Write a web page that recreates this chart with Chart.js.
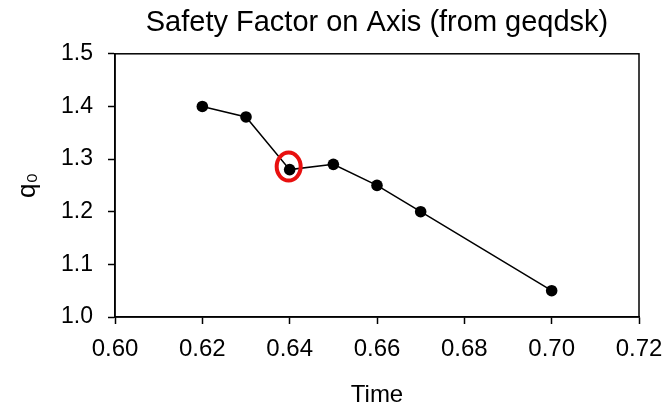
<!DOCTYPE html>
<html>
<head>
<meta charset="utf-8">
<script src="https://cdn.jsdelivr.net/npm/chart.js@4/dist/chart.umd.min.js"></script>
<style>
html,body{margin:0;padding:0;background:#fff;}
#wrap{width:667px;height:407px;position:relative;}
</style>
</head>
<body>
<div id="wrap"><canvas id="c" width="667" height="407"></canvas></div>
<script>
const times = [0.62, 0.63, 0.64, 0.65, 0.66, 0.67, 0.70];
const q0 = [1.40, 1.38, 1.28, 1.29, 1.25, 1.20, 1.05];
const highlightTime = [0.64];
const highlightQ = [1.28];
const xTicks = [0.60, 0.62, 0.64, 0.66, 0.68, 0.70, 0.72];
const yTicks = [1.0, 1.1, 1.2, 1.3, 1.4, 1.5];

const points = times.map((t, i) => ({x: t, y: q0[i]}));
const FONT = '"Liberation Sans", Arial, sans-serif';

const framePlugin = {
  id: 'frame',
  afterDatasetsDraw(chart) {
    const {ctx, chartArea: a, scales} = chart;
    ctx.save();
    ctx.strokeStyle = '#000';
    ctx.lineWidth = 1.5;
    ctx.strokeRect(a.left, a.top, a.right - a.left, a.bottom - a.top);
    ctx.strokeStyle = '#e8100f';
    ctx.lineWidth = 4;
    highlightTime.forEach((t, i) => {
      const px = scales.x.getPixelForValue(t);
      const py = scales.y.getPixelForValue(highlightQ[i]);
      ctx.beginPath();
      ctx.ellipse(px - 1, py - 3, 12, 14, 0, 0, Math.PI * 2);
      ctx.stroke();
    });
    ctx.restore();
  }
};

new Chart(document.getElementById('c'), {
  type: 'scatter',
  data: {
    datasets: [{
      data: points,
      showLine: true,
      borderColor: '#000',
      borderWidth: 1.5,
      backgroundColor: '#000',
      pointBackgroundColor: '#000',
      pointBorderColor: '#000',
      pointRadius: 5.8,
      pointBorderWidth: 0,
      tension: 0
    }]
  },
  options: {
    responsive: false,
    animation: false,
    devicePixelRatio: 1,
    layout: {padding: {left: 0, right: 28, top: 0, bottom: 0}},
    plugins: {
      legend: {display: false},
      tooltip: {enabled: false},
      title: {
        display: true,
        fullSize: false,
        text: 'Safety Factor on Axis (from geqdsk)',
        color: '#000',
        font: {family: FONT, size: 29, weight: 'normal'},
        padding: {top: 6, bottom: 13}
      }
    },
    scales: {
      x: {
        type: 'linear',
        min: 0.60,
        max: 0.72,
        afterBuildTicks(axis) { axis.ticks = xTicks.map(v => ({value: v})); },
        afterFit(axis) { axis.height = 90; axis.paddingLeft = 0; axis.paddingRight = 0; },
        border: {display: true, color: '#000', width: 1.5},
        grid: {display: true, drawOnChartArea: false, drawTicks: true, tickLength: 7, tickColor: '#000', tickWidth: 1.5},
        ticks: {
          color: '#000',
          padding: 11,
          maxRotation: 0,
          font: {family: FONT, size: 24},
          callback: v => Number(v).toFixed(2)
        },
        title: {
          display: true,
          text: 'Time',
          color: '#000',
          font: {family: FONT, size: 24},
          padding: {top: 0, bottom: -3}
        }
      },
      y: {
        type: 'linear',
        min: 1.0,
        max: 1.5,
        afterBuildTicks(axis) { axis.ticks = yTicks.map(v => ({value: v})); },
        afterFit(axis) { axis.width = 115; axis.paddingTop = 0; axis.paddingBottom = 0; },
        border: {display: true, color: '#000', width: 1.5},
        grid: {display: true, drawOnChartArea: false, drawTicks: true, tickLength: 7, tickColor: '#000', tickWidth: 1.5},
        ticks: {
          color: '#000',
          padding: 15,
          font: {family: FONT, size: 23},
          callback: v => Number(v).toFixed(1)
        },
        title: {
          display: true,
          text: 'q₀',
          color: '#000',
          font: {family: FONT, size: 26},
          padding: {top: 12, bottom: 0}
        }
      }
    }
  },
  plugins: [framePlugin]
});
</script>
</body>
</html>
